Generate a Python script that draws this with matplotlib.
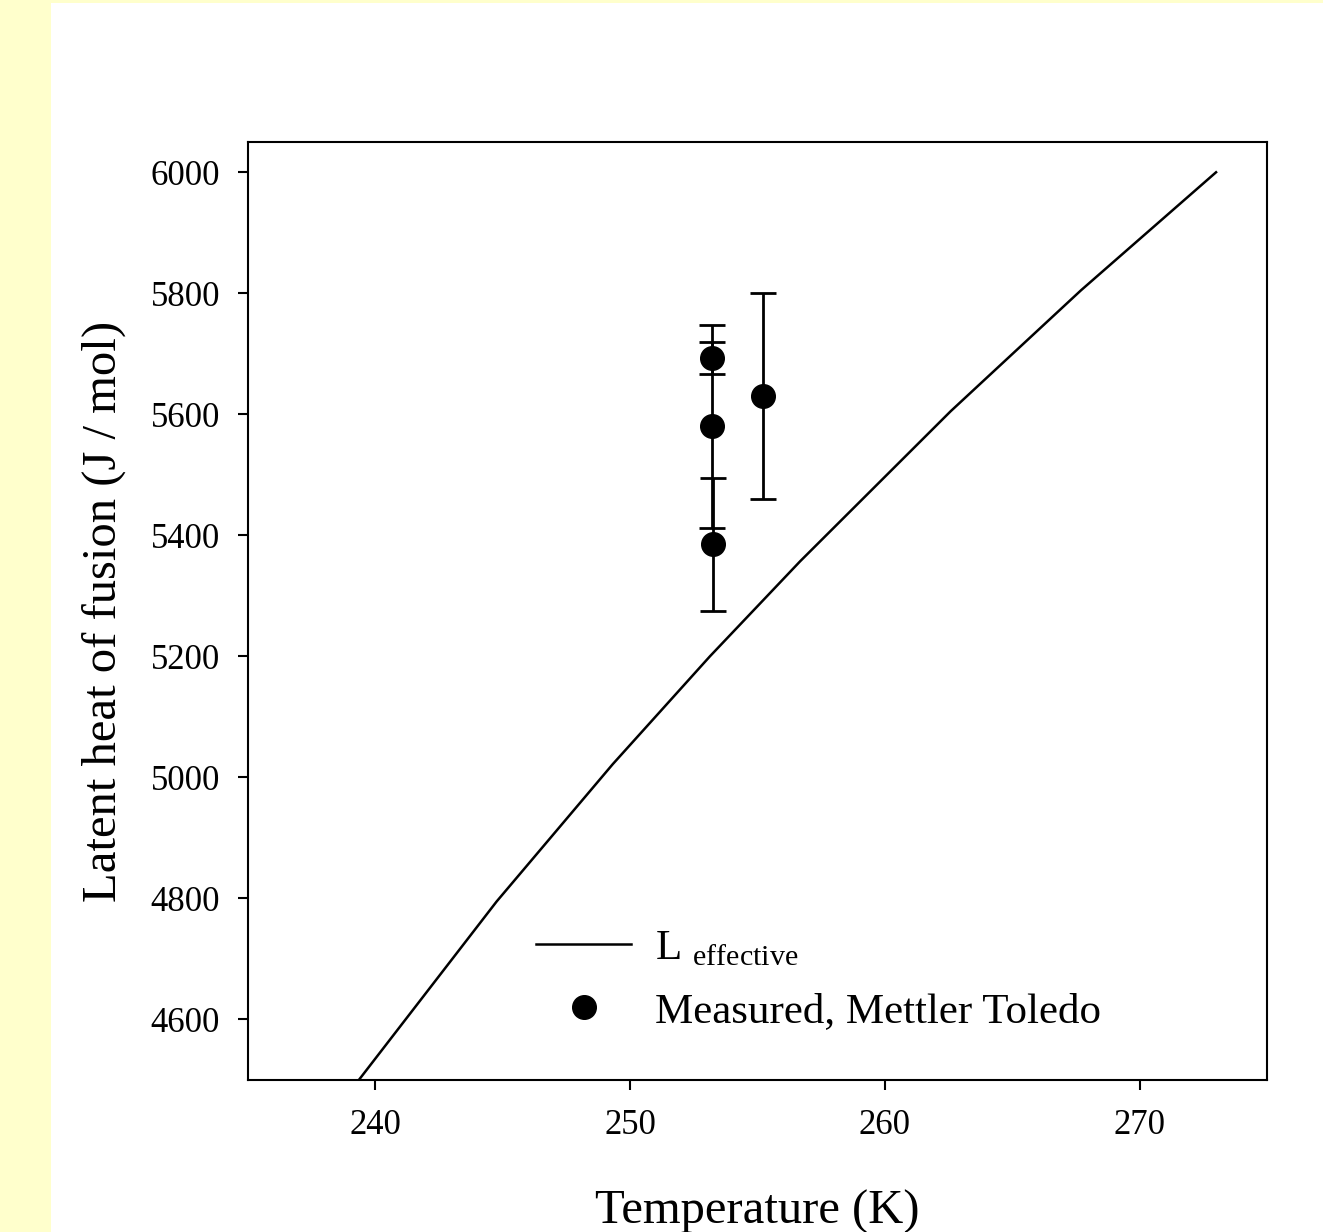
import matplotlib
matplotlib.use("Agg")
import matplotlib.pyplot as plt
from matplotlib.lines import Line2D
from matplotlib.patches import Rectangle

# values
curve_t = [239.35, 244.76, 249.32, 253.13, 256.67, 262.58, 267.70, 273.0]
curve_l = [4500, 4795, 5022, 5200, 5357, 5605, 5805, 6000]

meas_t = [253.2, 253.2, 253.25, 255.2]
meas_l = [5693, 5580, 5385, 5630]
meas_err = [27, 168, 110, 170]

xticks = [240, 250, 260, 270]
yticks = [4600, 4800, 5000, 5200, 5400, 5600, 5800, 6000]

plt.rcParams['font.family'] = ['Liberation Serif', 'DejaVu Serif']
plt.rcParams['mathtext.fontset'] = 'custom'
plt.rcParams['mathtext.rm'] = 'Liberation Serif'

fig = plt.figure(figsize=(13.23, 12.32), dpi=100)
fig.patch.set_facecolor('white')
fig.patches.append(Rectangle((0, 0), 51 / 1323, 1, transform=fig.transFigure,
                             facecolor='#FFFFCC', edgecolor='none', zorder=0))
fig.patches.append(Rectangle((0, 1 - 3 / 1232), 1, 3 / 1232, transform=fig.transFigure,
                             facecolor='#FFFFCC', edgecolor='none', zorder=0))

ax = fig.add_axes([248 / 1323, 1 - 1080 / 1232, (1267 - 248) / 1323, (1080 - 142) / 1232])

ax.plot(curve_t, curve_l, color='black', lw=1.8)
ax.errorbar(meas_t, meas_l, yerr=meas_err, fmt='o', color='black', ms=17,
            ecolor='black', elinewidth=2.0, capsize=9.5, capthick=2.0)

ax.set_xlim(235, 275)
ax.set_ylim(4500, 6050)
ax.set_xticks(xticks)
ax.set_yticks(yticks)
ax.tick_params(axis='both', direction='out', length=7, width=1.5, labelsize=25)
ax.tick_params(axis='x', pad=14)
ax.tick_params(axis='y', pad=13)
for s in ax.spines.values():
    s.set_linewidth(1.5)

ax.set_xlabel('Temperature (K)', fontsize=35, labelpad=34)
ax.set_ylabel('Latent heat of fusion (J / mol)', fontsize=35, labelpad=18)

h_line = Line2D([], [], color='black', lw=1.8)
h_pt = Line2D([], [], color='black', marker='o', ms=17, ls='none')
ax.legend([h_line, h_pt], [r'L $_{\mathrm{effective}}$', 'Measured, Mettler Toledo'],
          loc='lower left', bbox_to_anchor=(0.245, 0.011),
          frameon=False, fontsize=31, handlelength=2.2, handletextpad=0.55,
          labelspacing=0.55)

fig.savefig('out.png', dpi=100)
